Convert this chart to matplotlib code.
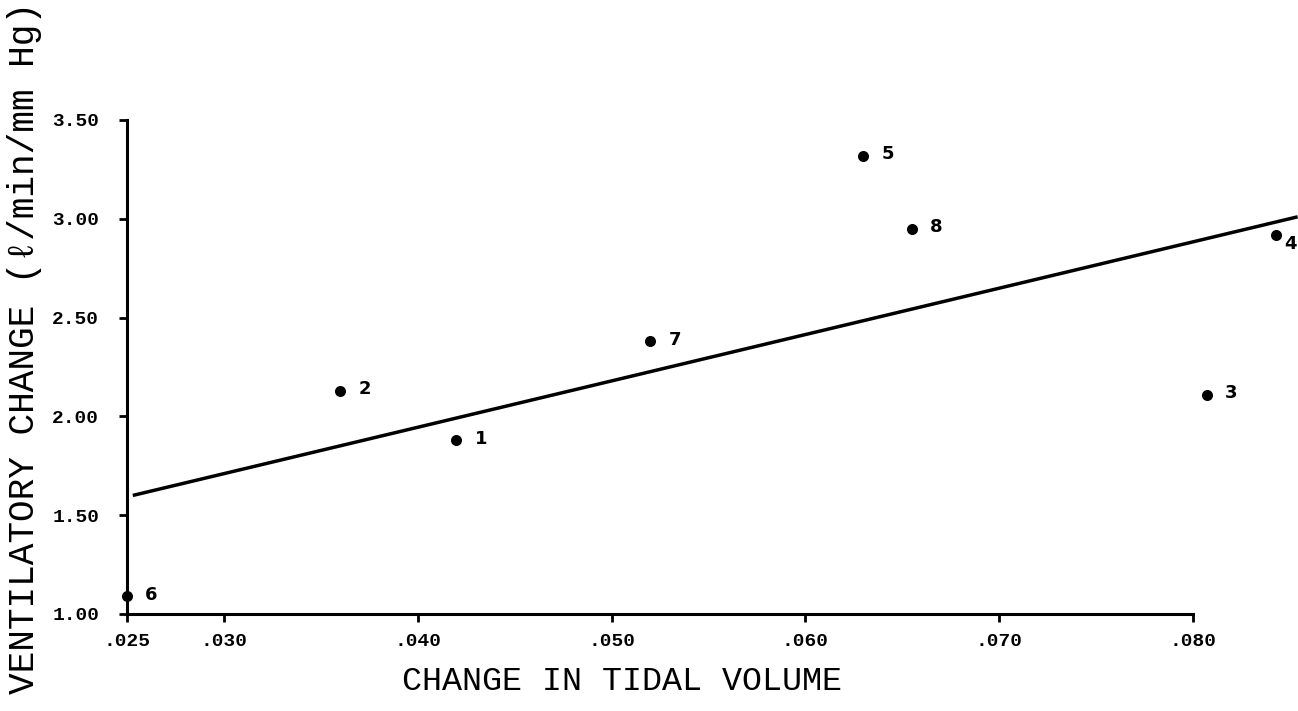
import matplotlib
matplotlib.use("Agg")
import matplotlib.pyplot as plt

# ---- data ----
subjects = ["1", "2", "3", "4", "5", "6", "7", "8"]
tidal_change = [0.042, 0.036, 0.0807, 0.0843, 0.063, 0.025, 0.052, 0.0655]
vent_change = [1.88, 2.13, 2.11, 2.92, 3.32, 1.09, 2.38, 2.95]

# regression line as drawn (end points)
fit_x = [0.0253, 0.0854]
fit_y = [1.60, 3.01]

x_ticks = [0.025, 0.030, 0.040, 0.050, 0.060, 0.070, 0.080]
x_tick_labels = [".025", ".030", ".040", ".050", ".060", ".070", ".080"]
y_ticks = [1.00, 1.50, 2.00, 2.50, 3.00, 3.50]
y_tick_labels = ["1.00", "1.50", "2.00", "2.50", "3.00", "3.50"]

x_title = "CHANGE IN TIDAL VOLUME"
y_title = "VENTILATORY CHANGE (\u2113/min/mm Hg)"

W, H = 1298, 711
fig = plt.figure(figsize=(W / 100, H / 100), dpi=100)
fig.patch.set_facecolor("white")

ax_left, ax_bottom_px, ax_top_px = 127, 614, 120
ax = fig.add_axes([ax_left / W, 1 - ax_bottom_px / H, 1 - ax_left / W,
                   (ax_bottom_px - ax_top_px) / H])
ax.set_xlim(0.025, 0.08542)
ax.set_ylim(1.0, 3.5)

ax.plot(fit_x, fit_y, color="black", lw=2.5, solid_capstyle="butt", clip_on=False)
ax.scatter(tidal_change, vent_change, s=48, color="black", zorder=3, clip_on=False)

# label placement (offset points); the last one is kept inside the figure edge
label_offsets = {"4": (6, -7)}
for lab, xv, yv in zip(subjects, tidal_change, vent_change):
    off = label_offsets.get(lab, (13, 1))
    ax.annotate(lab, (xv, yv), xytext=off, textcoords="offset points",
                ha="left", va="center", fontsize=13, fontweight="bold",
                family=["DejaVu Sans"], annotation_clip=False)

for s in ("top", "right"):
    ax.spines[s].set_visible(False)
for s in ("left", "bottom"):
    ax.spines[s].set_linewidth(2.2)
ax.spines["bottom"].set_bounds(0.025, 0.080)
ax.spines["left"].set_bounds(1.0, 3.5)

ax.set_xticks(x_ticks)
ax.set_xticklabels(x_tick_labels)
ax.set_yticks(y_ticks)
ax.set_yticklabels(y_tick_labels)
ax.tick_params(axis="both", direction="out", length=6, width=2, color="black")
ax.tick_params(axis="x", pad=8)
ax.tick_params(axis="y", pad=14)
for t in ax.get_xticklabels() + ax.get_yticklabels():
    t.set_fontfamily(["Liberation Mono", "DejaVu Sans Mono"])
    t.set_fontweight("bold")
    t.set_fontsize(14)

fig.text(622 / W, 1 - 682 / H, x_title, ha="center", va="center",
         fontsize=24, family=["Liberation Mono", "DejaVu Sans Mono"])
fig.text(25 / W, 0.51, y_title, ha="center", va="center", rotation=90,
         fontsize=26, family=["Liberation Mono", "DejaVu Sans Mono"])

fig.savefig("out.png", dpi=100, facecolor="white")
